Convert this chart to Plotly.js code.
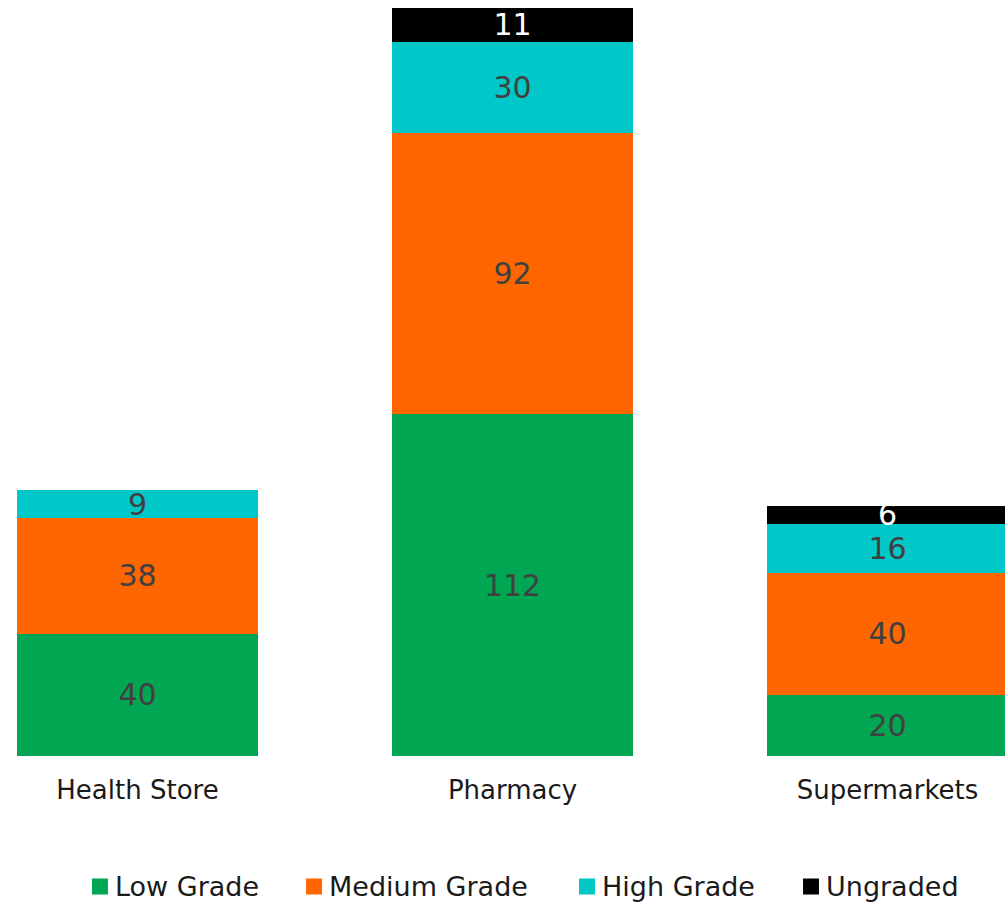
<!DOCTYPE html>
<html>
<head>
<meta charset="utf-8">
<script src="https://cdn.plot.ly/plotly-3.0.1.min.js"></script>
<style>
  html, body { margin: 0; padding: 0; background: #ffffff; }
  #chart { width: 1005px; height: 902px; }
</style>
</head>
<body>
<div id="chart"></div>
<script>
// Store channels and graded counts per channel
const channels = ['Health Store', 'Pharmacy', 'Supermarkets'];
const lowGrade = [40, 112, 20];
const mediumGrade = [38, 92, 40];
const highGrade = [9, 30, 16];
const ungraded = [null, 11, 6];

const seriesNames = ['Low Grade', 'Medium Grade', 'High Grade', 'Ungraded'];
const seriesColors = ['#00A651', '#FF6600', '#00C8C8', '#000000'];
const labelColors = ['#404040', '#404040', '#404040', '#ffffff'];

// each series gets its own one-entry legend so the entries can be spaced freely
const legendIds = ['legend', 'legend2', 'legend3', 'legend4'];
const legendX = [0.0746, 0.2876, 0.5592, 0.7821];

const FONT = 'DejaVu Sans, sans-serif';

function makeTrace(values, i) {
  return {
    type: 'bar',
    name: seriesNames[i],
    legend: legendIds[i],
    x: channels,
    y: values,
    text: values.map(v => (v == null ? '' : String(v))),
    textposition: 'inside',
    insidetextanchor: 'middle',
    textangle: 0,
    constraintext: 'none',
    textfont: { family: FONT, size: 30, color: labelColors[i] },
    marker: { color: seriesColors[i], line: { width: 0 } },
    hoverinfo: 'x+y+name'
  };
}

const data = [lowGrade, mediumGrade, highGrade, ungraded].map(makeTrace);

const layout = {
  width: 1005,
  height: 902,
  barmode: 'stack',
  bargap: 0.357,
  paper_bgcolor: '#ffffff',
  plot_bgcolor: '#ffffff',
  margin: { l: 0, r: 0, t: 8, b: 146, pad: 0 },
  font: { family: FONT, color: '#1a1a1a' },
  xaxis: {
    type: 'category',
    range: [-0.3667, 2.3133],
    showgrid: false,
    zeroline: false,
    showline: false,
    ticks: '',
    automargin: false,
    tickfont: { family: FONT, size: 26, color: '#1a1a1a' },
    ticklabelstandoff: 16,
    fixedrange: true
  },
  yaxis: {
    range: [0, 245],
    visible: false,
    showgrid: false,
    zeroline: false,
    fixedrange: true
  },
  showlegend: true
};

legendIds.forEach((id, i) => {
  layout[id] = {
    orientation: 'h',
    xref: 'paper',
    x: legendX[i],
    xanchor: 'left',
    yref: 'container',
    y: 0.0177,
    yanchor: 'middle',
    font: { family: FONT, size: 27, color: '#1a1a1a' },
    bgcolor: 'rgba(0,0,0,0)',
    borderwidth: 0
  };
});

Plotly.newPlot('chart', data, layout, { displayModeBar: false, staticPlot: true }).then(gd => {
  // larger square swatches in the legend, nudged towards their labels
  gd.querySelectorAll('.legendpoints path').forEach(p => {
    const t = p.getAttribute('transform') || '';
    p.setAttribute('transform', t + ' translate(5,1) scale(1.33)');
  });
});
</script>
</body>
</html>
